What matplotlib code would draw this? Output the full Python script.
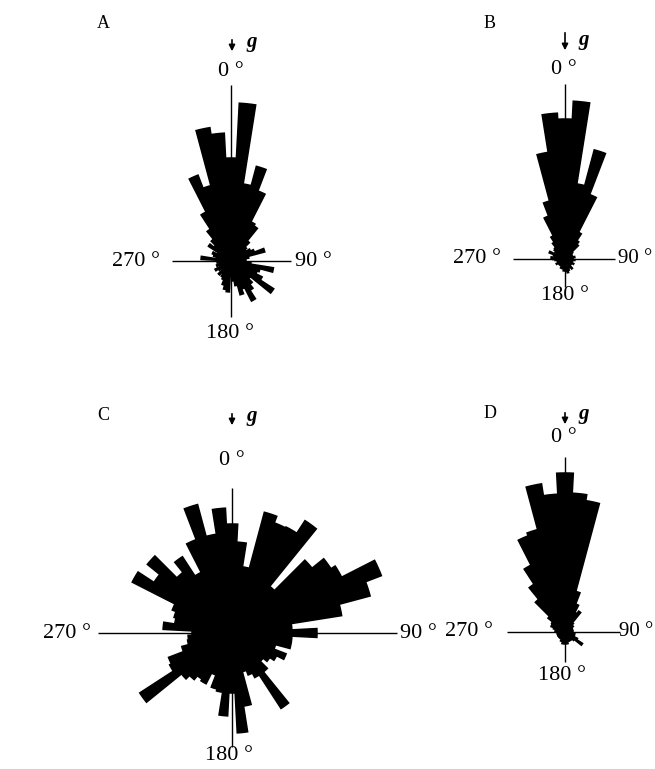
import numpy as np
import matplotlib
matplotlib.use("Agg")
import matplotlib.pyplot as plt
from matplotlib.patches import FancyArrowPatch

plt.rcParams['font.family'] = ['Liberation Serif', 'DejaVu Serif']

# 6-degree bins, angle measured clockwise from the gravity vector (0 deg)
angles_deg = list(range(0, 360, 6))

# Relative frequencies (arbitrary units)
values_A = [103, 158, 78, 98, 75, 44, 42, 26, 20, 18,
            22, 25, 35, 18, 15, 12, 20, 43, 30, 28,
            35, 51, 25, 30, 35, 45, 30, 35, 25, 20,
            15, 31, 29, 25, 20, 18, 15, 18, 12, 15,
            18, 12, 15, 12, 14, 10, 30, 15, 18, 20,
            15, 27, 22, 28, 38, 55, 92, 78, 135, 128]

values_B = [140, 158, 76, 113, 69, 30, 22, 19, 10, 8,
            8, 6, 8, 10, 8, 8, 10, 6, 8, 6,
            10, 8, 6, 8, 12, 8, 10, 12, 14, 12,
            10, 12, 10, 8, 10, 8, 6, 8, 6, 8,
            10, 8, 6, 8, 10, 12, 14, 10, 12, 17,
            10, 12, 14, 15, 20, 26, 46, 60, 108, 146]

values_C = [109, 91, 67, 125, 118, 119, 134, 60, 103, 118,
            123, 160, 143, 111, 60, 85, 60, 60, 45, 58,
            50, 45, 40, 50, 90, 50, 45, 40, 74, 100,
            60, 83, 60, 58, 45, 57, 55, 60, 65, 110,
            70, 68, 52, 45, 44, 40, 69, 58, 60, 64,
            112, 93, 109, 78, 91, 68, 100, 133, 100, 125]

values_D = [159, 139, 133, 42, 30, 22, 25, 12, 8, 10,
            8, 6, 8, 6, 8, 6, 8, 10, 8, 10,
            14, 21, 12, 10, 8, 10, 8, 10, 12, 10,
            12, 10, 12, 8, 10, 8, 6, 8, 6, 8,
            6, 8, 6, 8, 6, 8, 10, 8, 12, 15,
            15, 16, 22, 42, 57, 75, 103, 106, 150, 138]

panel_letters = ['A', 'B', 'C', 'D']
dir_labels = ['0 °', '90 °', '180 °', '270 °']

W, H = 655, 769
fig = plt.figure(figsize=(W / 100, H / 100), dpi=100)
fig.patch.set_facecolor('white')


def fx(x):
    return x / W


def fy(y):
    return 1 - y / H


def rose(cx, cy, R, values, arms):
    ax = fig.add_axes([(cx - R) / W, (H - cy - R) / H, 2 * R / W, 2 * R / H],
                      projection='polar')
    ax.set_theta_zero_location('N')
    ax.set_theta_direction(-1)
    ax.set_ylim(0, R)
    ax.set_axis_off()
    for ang, L in zip([0, 90, 180, 270], arms):
        ax.plot([np.deg2rad(ang)] * 2, [0, L], color='black', lw=1.0,
                solid_capstyle='butt', clip_on=False)
    th = np.deg2rad(angles_deg)
    bars = ax.bar(th, values, width=np.deg2rad(6), bottom=0, color='black',
                  edgecolor='black', linewidth=1.1, align='center')
    for b in bars:
        b.set_joinstyle('miter')
    return ax


# panel geometry (pixel centre, axis arm lengths up/right/down/left)
rose(231, 261, 185, values_A, [176, 60, 56, 59])
rose(565, 259, 185, values_B, [175, 50, 28, 52])
rose(232, 633, 175, values_C, [145, 165, 114, 134])
rose(565, 632, 185, values_D, [175, 55, 30, 58])

label_specs = [
    # letter pos, arrow x, arrow y0, y1, g pos, 0 pos, 90 pos, 180 pos, 270 pos
    ((103, 23), 232, 37, 54, (252, 42), (231, 71), (313, 261), (230, 333), (136, 261)),
    ((490, 23), 565, 30, 53, (584, 40), (564, 69), (635, 259), (565, 295), (477, 259)),
    ((103, 416), 232, 411, 428, (252, 416), (232, 460), (418, 633), (229, 755), (67, 633)),
    ((490, 413), 565, 410, 427, (584, 414), (564, 437), (636, 632), (562, 675), (469, 632)),
]

for letter, spec in zip(panel_letters, label_specs):
    lp, axx, ay0, ay1, gp, p0, p90, p180, p270 = spec
    fig.text(fx(lp[0]), fy(lp[1]), letter, fontsize=13, ha='center', va='center')
    arr = FancyArrowPatch((fx(axx), fy(ay0)), (fx(axx), fy(ay1)),
                          transform=fig.transFigure, arrowstyle='-|>',
                          mutation_scale=9, color='black', lw=1.2)
    fig.add_artist(arr)
    fig.text(fx(gp[0]), fy(gp[1]), 'g', fontsize=15, fontweight='bold',
             fontstyle='italic', ha='center', va='center')
    for i, (txt, p) in enumerate(zip(dir_labels, [p0, p90, p180, p270])):
        fs = 15 if (i == 1 and p[0] > 600) else 16
        fig.text(fx(p[0]), fy(p[1]), txt, fontsize=fs, ha='center', va='center')

fig.savefig('out.png', dpi=100, facecolor='white')
